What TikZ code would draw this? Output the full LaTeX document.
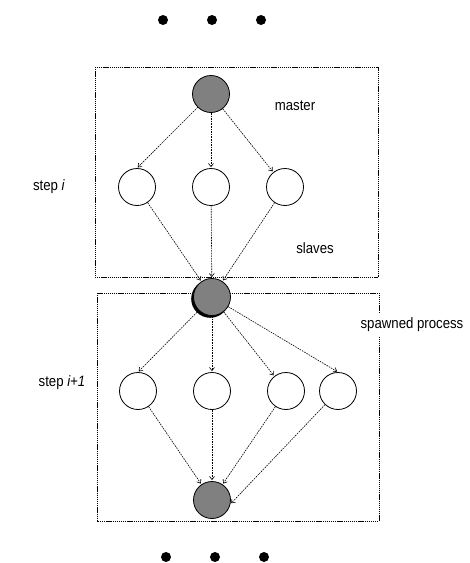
\documentclass[tikz,border=0pt]{standalone}
\usepackage{fontspec}
\setmainfont{Liberation Sans}[FakeStretch=0.88]
\usetikzlibrary{arrows.meta}
\begin{document}
\begin{tikzpicture}[x=1pt,y=-1pt,
  proc/.style={circle,draw=black,line width=0.8pt,minimum size=37pt,inner sep=0pt,fill=white},
  hub/.style={proc,fill=gray},
  conn/.style={line width=0.6pt,dash pattern=on 1.6pt off 1pt,-{Straight Barb[length=3.2pt,width=5pt,line width=0.6pt]},shorten >=1pt},
  frame/.style={line width=0.6pt,dash pattern=on 1.3pt off 0.8pt},
  lbl/.style={font=\fontsize{15}{17}\selectfont,inner sep=1pt},
  dot/.style={circle,fill=black,minimum size=10pt,inner sep=0pt}]
\useasboundingbox (0,0) rectangle (470,563);
% frames
\draw[frame] (95,67) rectangle (378,277);
\draw[frame] (97,293) rectangle (379,521);
% dots
\node[dot] (d1) at (163,20) {};
\node[dot] (d2) at (212,20) {};
\node[dot] (d3) at (261,20) {};
\node[dot] (e1) at (166,557) {};
\node[dot] (e2) at (215,557) {};
\node[dot] (e3) at (264,557) {};
% step i
\node[hub] (m) at (211,94) {};
\node[proc] (s1) at (137,187) {};
\node[proc] (s2) at (211,187) {};
\node[proc] (s3) at (285,187) {};
% middle (with shadow)
\fill[black] (210.2,298.8) circle (19pt);
\node[hub] (c) at (212,297) {};
% step i+1
\node[proc] (t1) at (138,391) {};
\node[proc] (t2) at (212,391) {};
\node[proc] (t3) at (286,391) {};
\node[proc] (t4) at (338,391) {};
\node[hub] (b) at (212,500) {};
% connectors
\draw[conn] (m) -- (s1.north);
\draw[conn] (m) -- (s2);
\draw[conn] (m) -- (s3);
\draw[conn] (s1) -- (c);
\draw[conn] (s2) -- (c);
\draw[conn] (s3) -- (c);
\draw[conn] (c) -- (t1.north);
\draw[conn] (c) -- (t2);
\draw[conn] (c) -- (t3);
\draw[conn] (c) -- (t4.north);
\draw[conn] (t1) -- (b);
\draw[conn] (t2) -- (b);
\draw[conn] (t3) -- (b);
\draw[conn] (t4) -- (b.-12);
% labels
\node[lbl] (lm) at (295,106) {master};
\node[lbl] (ls) at (315,248) {slaves};
\node[lbl] (li) at (49,187) {step \textit{i}};
\node[lbl] (lj) at (62,383) {step \textit{i+1}};
\node[lbl,fill=white,inner sep=4pt] (lp) at (412,325) {spawned process};
\end{tikzpicture}
\end{document}
